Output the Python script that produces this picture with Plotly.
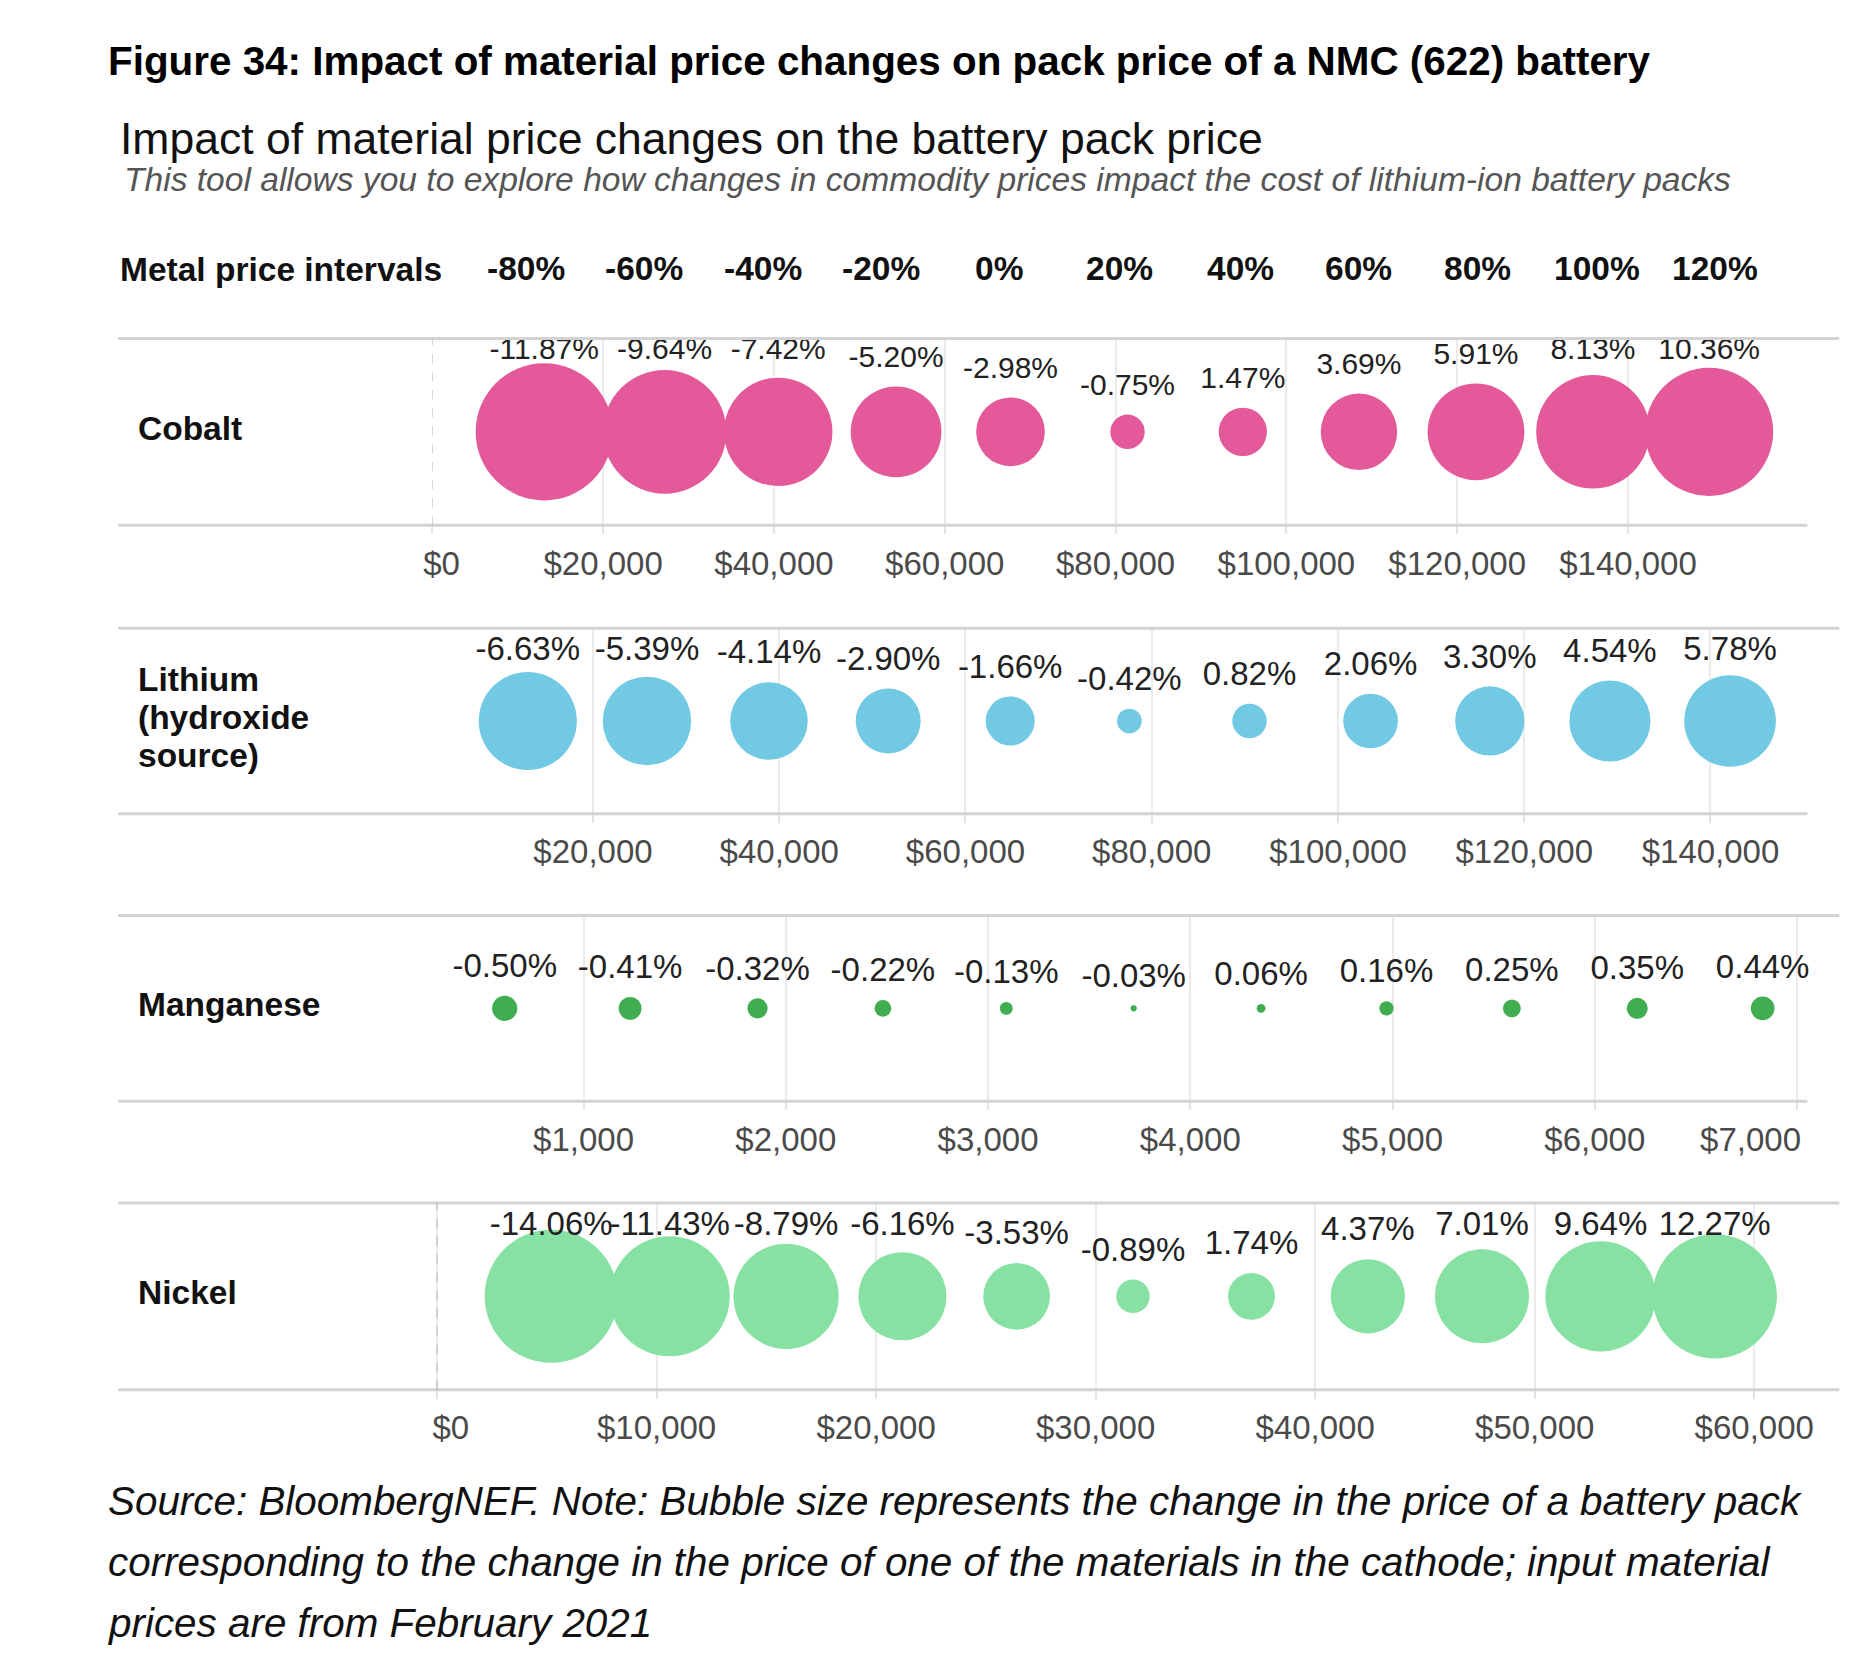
import numpy as np
import plotly.graph_objects as go
from plotly.subplots import make_subplots

# Metal price intervals (column headers)
intervals = ['-80%', '-60%', '-40%', '-20%', '0%', '20%', '40%', '60%', '80%', '100%', '120%']

# Metal prices ($/t) at each interval
cobalt_price = [13100, 27200, 40500, 54300, 67700, 81400, 94900, 108500, 122200, 135900, 149500]
lithium_price = [13000, 25800, 38900, 51700, 64800, 77600, 90500, 103500, 116300, 129200, 142100]
manganese_price = [610, 1230, 1860, 2480, 3090, 3720, 4350, 4970, 5590, 6210, 6830]
nickel_price = [5200, 10600, 15900, 21200, 26400, 31700, 37100, 42400, 47600, 53000, 58200]

# Change in battery pack price (%)
cobalt_pct = [-11.87, -9.64, -7.42, -5.20, -2.98, -0.75, 1.47, 3.69, 5.91, 8.13, 10.36]
lithium_pct = [-6.63, -5.39, -4.14, -2.90, -1.66, -0.42, 0.82, 2.06, 3.30, 4.54, 5.78]
manganese_pct = [-0.50, -0.41, -0.32, -0.22, -0.13, -0.03, 0.06, 0.16, 0.25, 0.35, 0.44]
nickel_pct = [-14.06, -11.43, -8.79, -6.16, -3.53, -0.89, 1.74, 4.37, 7.01, 9.64, 12.27]

# Axis ticks
cobalt_ticks = [0, 20000, 40000, 60000, 80000, 100000, 120000, 140000]
lithium_ticks = [20000, 40000, 60000, 80000, 100000, 120000, 140000]
manganese_ticks = [1000, 2000, 3000, 4000, 5000, 6000]
manganese_last_tick = [7000]   # drawn left-aligned so it stays inside the chart
nickel_ticks = [0, 10000, 20000, 30000, 40000, 50000, 60000]

W, H = 1853, 1673
FONT = 'Liberation Sans, Arial, sans-serif'
NB = '\u00a0'
SX, OX = 0.831, 30.5   # horizontal picture scale / offset
SY, OY = 0.8456, 7.6   # vertical picture scale / offset


# layout positions are measured on the reference picture; convert to paper fractions
def px(d):
    return min((d - OX) / SX / W, 0.996)


def py(d):
    return 1 - (d - OY) / SY / H


def tick_text(ticks, lead=0):
    out = [f'${t:,}' for t in ticks]
    out[0] = NB * lead + out[0]
    return out


TICKFONT = dict(family=FONT, size=33, color='#4A4A4A')

# (name, prices, pcts, ticks, range, colour, bubble scale, label size, panel top/bottom, label lines,
#  tick pad, label clamp)
rows = [
    ('Cobalt', cobalt_price, cobalt_pct, cobalt_ticks, [0, 161000], '#E3599A', 39.8, 30, 287, 445,
     ['Cobalt'], 2, 13),
    ('Lithium', lithium_price, lithium_pct, lithium_ticks, [2750, 150400], '#71C9E3', 38.1, 33, 532, 689,
     ['Lithium', '(hydroxide', 'source)'], 0, 24),
    ('Manganese', manganese_price, manganese_pct, manganese_ticks, [252, 7051], '#40AE50', 35.6, 33, 775, 932,
     ['Manganese'], 0, 21),
    ('Nickel', nickel_price, nickel_pct, nickel_ticks, [-215, 62420], '#87E1A3', 35.5, 33, 1018, 1176,
     ['Nickel'], 3, 24),
]

fig = make_subplots(rows=4, cols=1)

x_dom = [px(366), px(1530)]
shapes = []
annotations = []

for i, (name, price, pct, ticks, rng, col, k, lsize, top, bot, lines, pad, clamp) in enumerate(rows):
    r = i + 1
    mag = np.abs(pct)
    fig.add_trace(go.Scatter(
        x=price, y=[0] * len(price), mode='markers',
        marker=dict(size=mag, sizemode='area', sizeref=2 / k ** 2, sizemin=3,
                    color=col, opacity=1, line=dict(width=0)),
        name=name, showlegend=False, cliponaxis=False, hoverinfo='skip',
    ), row=r, col=1)

    # value labels sit just above each bubble, kept inside the pane
    half = (bot - top) / SY / 2
    off = np.minimum(k * np.sqrt(mag) / 2 + 27, half - clamp)
    fig.add_trace(go.Scatter(
        x=price, y=off / half, mode='text',
        text=[f'{v:.2f}%' for v in pct], textposition='middle center',
        textfont=dict(family=FONT, size=lsize, color='#222222'),
        showlegend=False, cliponaxis=False,
    ), row=r, col=1)

    sfx = '' if r == 1 else str(r)
    all_ticks = ticks + (manganese_last_tick if name == 'Manganese' else [])
    fig.update_layout(**{
        'xaxis' + sfx: dict(domain=x_dom, range=rng, tickvals=all_ticks,
                            ticktext=tick_text(ticks, pad) + [''] * (len(all_ticks) - len(ticks)),
                            showgrid=True, gridcolor='#EBEBEB', gridwidth=1.5,
                            zeroline=False, showline=False,
                            ticks='outside', ticklen=8, tickcolor='#E4E4E4', tickwidth=1.5,
                            ticklabelstandoff=1, tickfont=TICKFONT),
        'yaxis' + sfx: dict(domain=[py(bot), py(top)], range=[-1, 1],
                            showgrid=False, zeroline=False, showticklabels=False, fixedrange=True),
    })

    # panel separators
    shapes.append(dict(type='line', xref='paper', yref='paper', x0=px(100), x1=px(1557),
                       y0=py(top), y1=py(top), line=dict(color='#D3D3D3', width=3)))
    shapes.append(dict(type='line', xref='paper', yref='paper', x0=px(100), x1=px(1530 if r < 4 else 1557),
                       y0=py(bot), y1=py(bot), line=dict(color='#D3D3D3', width=3)))
    # dashed zero reference
    if ticks[0] == 0:
        shapes.append(dict(type='line', xref='x' + sfx, yref='y' + sfx + ' domain', x0=0, x1=0,
                           y0=0, y1=1, line=dict(color='#BDBDBD', width=1.2, dash='dash')))

    # row labels
    mid = (top + bot) / 2 - 3
    n = len(lines)
    for j, txt in enumerate(lines):
        yy = mid + (j - (n - 1) / 2) * 32.5
        annotations.append(dict(text=f'<b>{txt}</b>', xref='paper', yref='paper',
                                x=px(115), y=py(yy), xanchor='left', yanchor='middle',
                                showarrow=False, font=dict(family=FONT, size=33.5, color='#111111')))

# last manganese label: an overlaid axis sharing the manganese scale, label kept left of its tick
fig.add_trace(go.Scatter(x=[None], y=[None], xaxis='x5', yaxis='y3', showlegend=False, hoverinfo='skip'))
fig.update_layout(xaxis5=dict(overlaying='x3', matches='x3', anchor='y3', side='bottom', domain=x_dom,
                              tickvals=manganese_last_tick, ticktext=[f'${t:,}' for t in manganese_last_tick],
                              ticklabelposition='outside left', ticklabelshift=4,
                              showgrid=False, zeroline=False, showline=False, ticks='',
                              ticklabelstandoff=16, tickfont=TICKFONT))

# header row
annotations.append(dict(text='<b>Metal price intervals</b>', xref='paper', yref='paper',
                        x=px(100), y=py(229), xanchor='left', yanchor='middle', showarrow=False,
                        font=dict(family=FONT, size=33.5, color='#111111')))
header_x = [445, 545, 646, 746, 846, 948, 1050, 1150, 1251, 1352, 1452]
for lab, xx in zip(intervals, header_x):
    annotations.append(dict(text=f'<b>{lab}</b>', xref='paper', yref='paper',
                            x=px(xx), y=py(228), xanchor='center', yanchor='middle',
                            showarrow=False, font=dict(family=FONT, size=33.5, color='#111111')))

# titles
annotations.append(dict(text='<b>Figure 34: Impact of material price changes on pack price of a NMC (622) battery</b>',
                        xref='paper', yref='paper', x=px(90), y=py(52), xanchor='left', yanchor='middle',
                        showarrow=False, font=dict(family=FONT, size=40.4, color='#000000')))
annotations.append(dict(text='Impact of material price changes on the battery pack price',
                        xref='paper', yref='paper', x=px(100), y=py(118), xanchor='left', yanchor='middle',
                        showarrow=False, font=dict(family=FONT, size=44.5, color='#111111')))
annotations.append(dict(text='<i>This tool allows you to explore how changes in commodity prices impact the cost of lithium-ion battery packs</i>',
                        xref='paper', yref='paper', x=px(103), y=py(153), xanchor='left', yanchor='middle',
                        showarrow=False, font=dict(family=FONT, size=33.6, color='#555555')))

# source note
note = ['Source: BloombergNEF. Note: Bubble size represents the change in the price of a battery pack',
        'corresponding to the change in the price of one of the materials in the cathode; input material',
        'prices are from February 2021']
for j, txt in enumerate(note):
    annotations.append(dict(text=f'<i>{txt}</i>', xref='paper', yref='paper',
                            x=px(90), y=py(1270 + j * 51.5), xanchor='left', yanchor='middle',
                            showarrow=False, font=dict(family=FONT, size=40.4, color='#111111')))

fig.update_layout(width=W, height=H, margin=dict(l=0, r=0, t=0, b=0),
                  paper_bgcolor='white', plot_bgcolor='white',
                  shapes=shapes, annotations=annotations)

fig.write_html('out.html')
